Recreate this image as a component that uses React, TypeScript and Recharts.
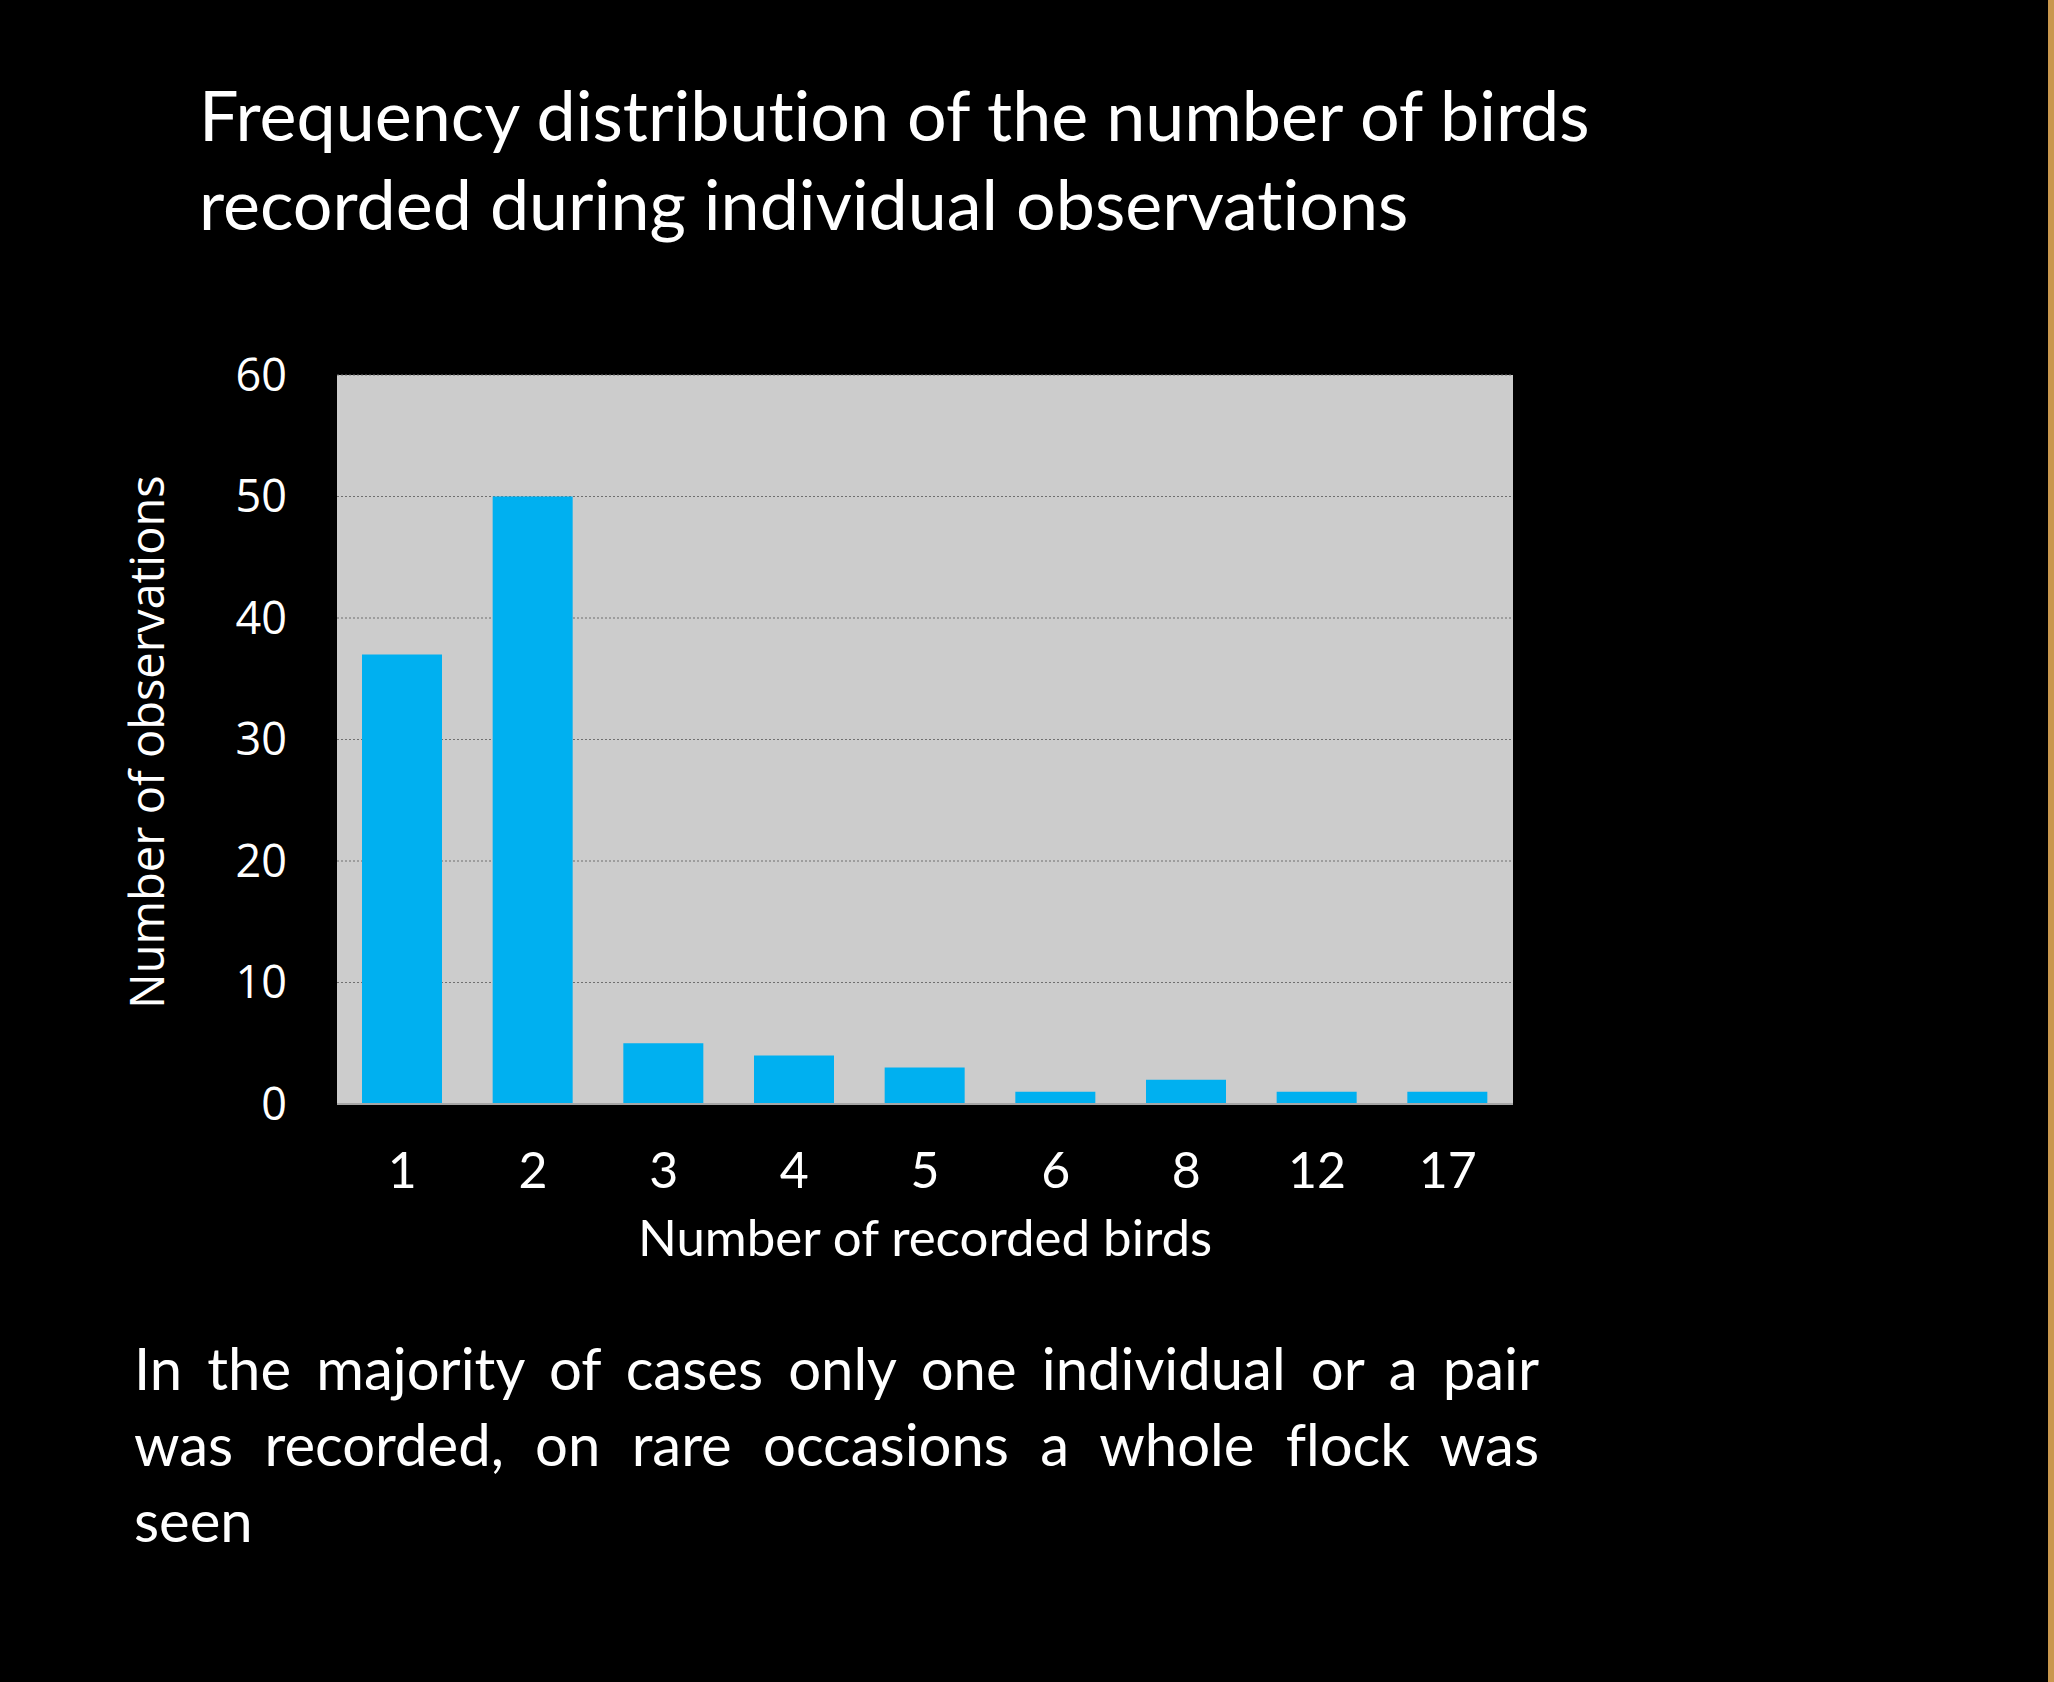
import { BarChart, Bar, XAxis, YAxis, CartesianGrid } from 'recharts';

// bird counts per observation (x) and how often each occurred
const birdCounts = ['1', '2', '3', '4', '5', '6', '8', '12', '17'];
const observations = [37, 50, 5, 4, 3, 1, 2, 1, 1];
const yTicks = [0, 10, 20, 30, 40, 50, 60];

const titleLines = [
  'Frequency distribution of the number of birds',
  'recorded during individual observations',
];
const noteLines = [
  'In the majority of cases only one individual or a pair',
  'was recorded, on rare occasions a whole flock was',
  'seen',
];

const data = birdCounts.map((c, i) => ({ birds: c, count: observations[i] }));

const gill = 'Lato, "Open Sans", sans-serif';
const plain = '"Open Sans", "Noto Sans", sans-serif';

function XLabel({ viewBox }: any) {
  const { x, y, width } = viewBox;
  return (
    <text x={x + width / 2} y={y + 152} textAnchor="middle" fill="#fff" fontSize={51} fontFamily={gill}
      style={{ fontVariantLigatures: 'none' }}>
      Number of recorded birds
    </text>
  );
}

function YLabel({ viewBox }: any) {
  const { x } = viewBox;
  const cx = x - 113;
  const cy = 742;
  return (
    <text x={cx} y={cy} textAnchor="middle" fill="#fff" fontSize={47} fontFamily={plain}
      transform={`rotate(-90, ${cx}, ${cy})`}>
      Number of observations
    </text>
  );
}

export default function App() {
  return (
    <div style={{ position: 'absolute', left: 0, top: 0, width: 2054, height: 1682, background: '#000', overflow: 'hidden' }}>
      <div style={{ position: 'absolute', right: 0, top: 0, width: 6, height: 1682, background: '#c9974e' }} />

      <div style={{ position: 'absolute', left: 199, top: 70, color: '#fff', fontFamily: gill, fontSize: 70, lineHeight: '89px', whiteSpace: 'nowrap', fontVariantLigatures: 'none' }}>
        {titleLines.map(l => <div key={l}>{l}</div>)}
      </div>

      <div style={{ position: 'absolute', left: 134, top: 1330, width: 1405, color: '#fff', fontFamily: gill, fontSize: 58, lineHeight: '76px', fontVariantLigatures: 'none' }}>
        {noteLines.map((l, i) => (
          <div key={l} style={{ textAlign: 'justify', textAlignLast: i < noteLines.length - 1 ? 'justify' : 'left', whiteSpace: 'nowrap' }}>{l}</div>
        ))}
      </div>

      <div style={{ position: 'absolute', left: 0, top: 0 }}>
        <BarChart width={2054} height={1682} data={data}
          margin={{ top: 375, right: 541, bottom: 448, left: 277 }}>
          <CartesianGrid vertical={false} fill="#cccccc" stroke="#6f6f6f" strokeDasharray="2 2" />
          <XAxis
            dataKey="birds"
            height={130}
            tickSize={0}
            tickMargin={48}
            tickLine={false}
            axisLine={{ stroke: '#a6a6a6', strokeWidth: 2 }}
            tick={{ fill: '#fff', fontSize: 50, fontFamily: gill }}
            label={<XLabel />}
          />
          <YAxis
            width={60}
            domain={[0, 60]}
            ticks={yTicks}
            interval={0}
            tickSize={0}
            tickMargin={50}
            tickLine={false}
            axisLine={false}
            tick={{ fill: '#fff', fontSize: 45, fontFamily: plain }}
            label={<YLabel />}
          />
          <Bar dataKey="count" fill="#00b0f0" barSize={80} isAnimationActive={false} />
        </BarChart>
      </div>
    </div>
  );
}
